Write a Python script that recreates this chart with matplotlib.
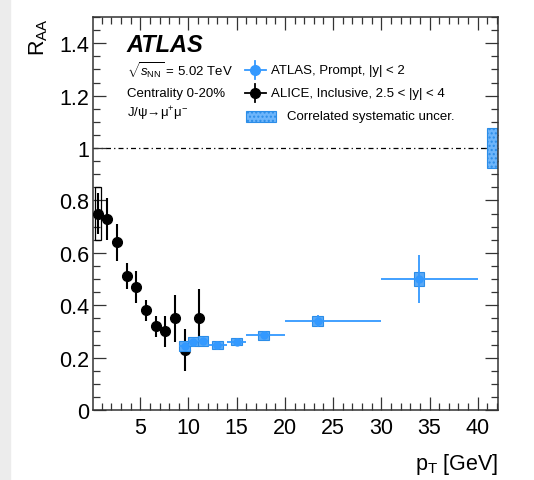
import numpy as np
import matplotlib
matplotlib.use("Agg")
import matplotlib.pyplot as plt
from matplotlib.patches import Rectangle
from matplotlib.ticker import MultipleLocator, FuncFormatter

# ── 字体: Helvetica 风格 ──
plt.rcParams["font.family"] = ["Liberation Sans", "DejaVu Sans"]
plt.rcParams["mathtext.fontset"] = "custom"
plt.rcParams["mathtext.rm"] = "Liberation Sans"
plt.rcParams["mathtext.it"] = "Liberation Sans:italic"
plt.rcParams["mathtext.bf"] = "Liberation Sans:bold"

# ALICE inclusive J/psi, 2.5 < |y| < 4
alice_pt = [0.6, 1.6, 2.6, 3.6, 4.6, 5.6, 6.6, 7.6, 8.6, 9.6, 11.1]
alice_raa = [0.75, 0.73, 0.64, 0.51, 0.47, 0.38, 0.32, 0.30, 0.35, 0.23, 0.35]
alice_err = [0.08, 0.08, 0.07, 0.05, 0.06, 0.04, 0.04, 0.06, 0.09, 0.08, 0.11]
# 第一个点的系统误差框 (pT 下限, 上限, RAA 下限, 上限)
alice_box = [0.27, 0.93, 0.65, 0.85]

# ATLAS prompt J/psi, |y| < 2
atlas_pt = [9.6, 10.5, 11.5, 13.0, 15.0, 17.8, 23.4, 33.9]
atlas_lo = [9, 10, 11, 12, 14, 16, 20, 30]
atlas_hi = [10, 11, 12, 14, 16, 20, 30, 40]
atlas_raa = [0.245, 0.261, 0.264, 0.248, 0.261, 0.285, 0.340, 0.50]
atlas_stat = [0.010, 0.010, 0.010, 0.008, 0.008, 0.010, 0.023, 0.09]
atlas_syst = [0.019, 0.017, 0.018, 0.015, 0.014, 0.017, 0.020, 0.025]

# 全局相关系统误差 (围绕 RAA = 1)
corr_syst = 0.078

BLUE = "#3399ff"
BOX_FACE = "#5aa9f6"
BOX_EDGE = "#2b8de8"

fig = plt.figure(figsize=(5.34, 4.81), dpi=100)
fig.patches.append(Rectangle((0, 0), 10 / 534, 1, transform=fig.transFigure,
                             color="#ececec", zorder=-1))
ax = fig.add_axes([93 / 534, 1 - 411 / 481, 405 / 534, 393 / 481])

ax.set_xlim(0.1, 42.1)
ax.set_ylim(0, 1.5)

# RAA = 1 参考线
ax.axhline(1.0, color="black", lw=0.9, linestyle=(0, (4, 2.5, 1, 2.5)), zorder=1)

# 相关系统误差框 (右侧)
xmax = ax.get_xlim()[1]
ax.add_patch(Rectangle((41.0, 1 - corr_syst), xmax - 41.0, 2 * corr_syst,
                       facecolor="#6db5fb", edgecolor=BOX_EDGE, hatch="....",
                       lw=0.8, zorder=2))

# ALICE
ax.add_patch(Rectangle((alice_box[0], alice_box[2]), alice_box[1] - alice_box[0],
                       alice_box[3] - alice_box[2], fill=False,
                       edgecolor="black", lw=0.9, zorder=3))
ax.errorbar(alice_pt, alice_raa, yerr=alice_err, fmt="o", color="black",
            ms=7, elinewidth=1.5, capsize=0, zorder=4)

# ATLAS: 系统误差框 + 统计误差
pt = np.array(atlas_pt)
raa = np.array(atlas_raa)
syst = np.array(atlas_syst)
for x, y, s in zip(pt, raa, syst):
    ax.add_patch(Rectangle((x - 0.55, y - s), 1.1, 2 * s, facecolor=BOX_FACE,
                           edgecolor=BOX_EDGE, lw=0.8, zorder=5))
xerr = [pt - np.array(atlas_lo), np.array(atlas_hi) - pt]
ax.errorbar(pt, raa, xerr=xerr, yerr=atlas_stat, fmt="o", color=BLUE,
            ms=5, elinewidth=1.3, capsize=0, zorder=6)

# ── 坐标轴 ──
ax.xaxis.set_major_locator(MultipleLocator(5))
ax.xaxis.set_minor_locator(MultipleLocator(1))
ax.yaxis.set_major_locator(MultipleLocator(0.2))
ax.yaxis.set_minor_locator(MultipleLocator(0.05))
ax.yaxis.set_major_formatter(FuncFormatter(lambda v, p: f"{v:g}"))
ax.tick_params(which="both", direction="in", top=True, right=True,
               width=0.9, color="#333333", labelsize=15.5)
ax.tick_params(which="major", length=9.5)
ax.tick_params(which="minor", length=5)
ax.tick_params(axis="y", pad=3)
ax.tick_params(axis="x", pad=5)
for sp in ax.spines.values():
    sp.set_linewidth(1.1)
    sp.set_color("#333333")

ax.set_xlabel(r"p$_{\mathrm{T}}$ [GeV]", fontsize=15.5, loc="right")
ax.xaxis.set_label_coords(1.0, -0.105)
ax.set_ylabel(r"R$_{\mathrm{AA}}$", fontsize=15.5, loc="top")
ax.yaxis.set_label_coords(-0.105, 1.0)

# ── 标注 ──
ax.text(0.083, 0.914, "ATLAS", transform=ax.transAxes, fontsize=17,
        fontweight="bold", fontstyle="italic", va="baseline")
ax.text(0.083, 0.865, r"$\sqrt{s_{\mathrm{NN}}}$ = 5.02 TeV", transform=ax.transAxes,
        fontsize=9.5, va="center")
ax.text(0.083, 0.807, "Centrality 0-20%", transform=ax.transAxes,
        fontsize=9.5, va="center")
ax.text(0.083, 0.756, "J/ψ→μ$^{+}$μ$^{-}$",
        transform=ax.transAxes, fontsize=9.5, va="center")

# 图例 (手动绘制)
lx, tx = 0.40, 0.44
ax.plot([0.375, 0.427], [0.866, 0.866], color=BLUE, lw=1.3, transform=ax.transAxes)
ax.plot([lx, lx], [0.843, 0.889], color=BLUE, lw=1.3, transform=ax.transAxes)
ax.plot([lx], [0.866], "o", color=BLUE, ms=7, transform=ax.transAxes)
ax.text(tx, 0.866, "ATLAS, Prompt, |y| < 2", transform=ax.transAxes,
        fontsize=9.5, va="center")
ax.plot([0.375, 0.427], [0.807, 0.807], color="black", lw=1.3, transform=ax.transAxes)
ax.plot([lx, lx], [0.784, 0.830], color="black", lw=1.3, transform=ax.transAxes)
ax.plot([lx], [0.807], "o", color="black", ms=7, transform=ax.transAxes)
ax.text(tx, 0.807, "ALICE, Inclusive, 2.5 < |y| < 4", transform=ax.transAxes,
        fontsize=9.5, va="center")
ax.add_patch(Rectangle((0.379, 0.733), 0.074, 0.027, transform=ax.transAxes,
                       facecolor="#6db5fb", edgecolor=BOX_EDGE, hatch="....", lw=0.8))
ax.text(0.478, 0.747, "Correlated systematic uncer.", transform=ax.transAxes,
        fontsize=9.5, va="center")

fig.savefig("out.png", dpi=100)
